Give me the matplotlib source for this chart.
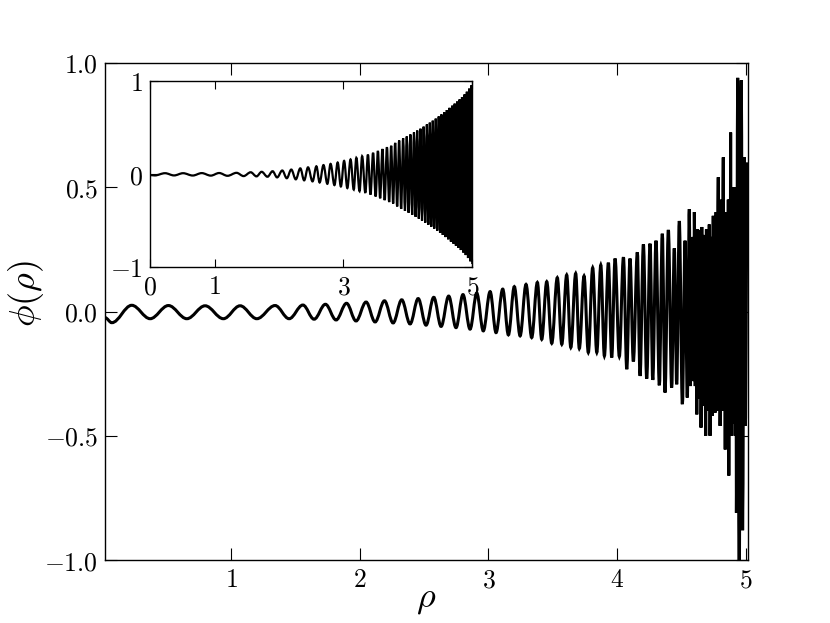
import matplotlib
matplotlib.use("Agg")
import matplotlib.pyplot as plt
from matplotlib.path import Path
from matplotlib.patches import PathPatch
from matplotlib.ticker import FuncFormatter

plt.rcParams["mathtext.fontset"] = "cm"

# extrema of phi(rho) (alternating min / max)
main_rho = [0.021, 0.073, 0.228, 0.371, 0.513, 0.656, 0.798, 0.940, 1.070, 1.200,
            1.342, 1.451, 1.558, 1.645, 1.733, 1.816, 1.897, 1.971, 2.049, 2.119,
            2.192, 2.259, 2.326, 2.391, 2.454, 2.515, 2.575, 2.632, 2.691, 2.748,
            2.802, 2.857, 2.909, 2.960, 3.013, 3.059, 3.111, 3.155, 3.201, 3.246,
            3.292, 3.336, 3.380, 3.414, 3.453, 3.492, 3.535, 3.570, 3.608, 3.640,
            3.678, 3.706, 3.743, 3.776, 3.810, 3.842, 3.873, 3.901, 3.932, 3.958,
            3.984, 4.017, 4.049, 4.075, 4.100, 4.126, 4.157, 4.178, 4.204, 4.230,
            4.256, 4.277, 4.302, 4.328, 4.351, 4.372, 4.398, 4.424, 4.444, 4.463,
            4.483, 4.507, 4.528, 4.545, 4.561, 4.569, 4.576, 4.584, 4.590, 4.595,
            4.600, 4.607, 4.613, 4.619, 4.625, 4.631, 4.636, 4.642, 4.647, 4.652,
            4.658, 4.664, 4.670, 4.676, 4.682, 4.688, 4.694, 4.699, 4.704, 4.710,
            4.716, 4.722, 4.730, 4.739, 4.747, 4.752, 4.757, 4.761, 4.769, 4.777,
            4.786, 4.791, 4.795, 4.800, 4.808, 4.817, 4.825, 4.830, 4.835, 4.840,
            4.845, 4.850, 4.855, 4.859, 4.864, 4.868, 4.873, 4.877, 4.882, 4.887,
            4.892, 4.897, 4.902, 4.907, 4.912, 4.917, 4.922, 4.927, 4.937, 4.948,
            4.965, 4.975, 4.988, 4.996, 5.012]
main_phi = [-0.025, -0.045, 0.025, -0.029, 0.024, -0.029, 0.023, -0.029, 0.023, -0.029,
            0.024, -0.029, 0.026, -0.031, 0.029, -0.034, 0.033, -0.038, 0.038, -0.042,
            0.043, -0.046, 0.047, -0.050, 0.052, -0.055, 0.057, -0.060, 0.062, -0.065,
            0.068, -0.071, 0.074, -0.078, 0.080, -0.085, 0.090, -0.094, 0.100, -0.098,
            0.109, -0.105, 0.117, -0.112, 0.120, -0.128, 0.136, -0.132, 0.147, -0.145,
            0.153, -0.149, 0.143, -0.165, 0.176, -0.165, 0.187, -0.179, 0.196, -0.185,
            0.213, -0.181, 0.218, -0.232, 0.213, -0.201, 0.238, -0.259, 0.270, -0.270,
            0.273, -0.275, 0.285, -0.297, 0.313, -0.326, 0.328, -0.306, 0.254, -0.293,
            0.364, -0.373, 0.285, -0.346, 0.412, -0.300, 0.250, -0.220, 0.300, -0.280,
            0.400, -0.300, 0.300, -0.414, 0.330, -0.320, 0.328, -0.350, 0.300, -0.467,
            0.340, -0.360, 0.308, -0.380, 0.300, -0.500, 0.330, -0.400, 0.288, -0.400,
            0.350, -0.500, 0.300, -0.420, 0.385, -0.350, 0.300, -0.407, 0.400, -0.400,
            0.540, -0.380, 0.350, -0.460, 0.450, -0.400, 0.620, -0.400, 0.400, -0.555,
            0.400, -0.450, 0.326, -0.400, 0.450, -0.660, 0.450, -0.500, 0.720, -0.500,
            0.450, -0.440, 0.500, -0.450, 0.366, -0.500, 0.500, -0.810, 0.940, -1.100,
            0.930, -0.880, 0.620, -0.460, 0.600]

# extrema of the inset curve (alternating min / max)
inset_rho = [0.0, 0.07, 0.23, 0.37, 0.51, 0.66, 0.80, 0.94, 1.07, 1.20,
             1.34, 1.45, 1.56, 1.65, 1.73, 1.82, 1.90, 1.97, 2.05, 2.12,
             2.19, 2.26, 2.33, 2.39, 2.45, 2.52, 2.58, 2.63, 2.69, 2.75,
             2.80, 2.86, 2.91, 2.96, 3.01, 3.06, 3.11, 3.16, 3.20, 3.25,
             3.29, 3.34, 3.38, 3.42, 3.46, 3.50, 3.535, 3.57, 3.605, 3.64,
             3.675, 3.71, 3.741, 3.772, 3.803, 3.834, 3.865, 3.896, 3.927, 3.955,
             3.983, 4.011, 4.039, 4.067, 4.095, 4.120, 4.145, 4.170, 4.195, 4.220,
             4.245, 4.270, 4.295, 4.318, 4.341, 4.364, 4.387, 4.410, 4.433, 4.456,
             4.479, 4.500, 4.521, 4.542, 4.563, 4.584, 4.605, 4.626, 4.647, 4.668,
             4.689, 4.708, 4.727, 4.746, 4.765, 4.784, 4.803, 4.822, 4.841, 4.860,
             4.879, 4.898, 4.916, 4.934, 4.952, 4.970, 4.988, 5.000]
inset_phi = [-0.010, -0.014, 0.010, -0.014, 0.010, -0.015, 0.011, -0.016, 0.012, -0.018,
             0.014, -0.021, 0.020, -0.024, 0.025, -0.028, 0.031, -0.035, 0.039, -0.044,
             0.049, -0.056, 0.062, -0.067, 0.073, -0.078, 0.084, -0.090, 0.097, -0.104,
             0.110, -0.118, 0.125, -0.133, 0.142, -0.150, 0.158, -0.166, 0.175, -0.183,
             0.192, -0.201, 0.210, -0.220, 0.230, -0.240, 0.250, -0.260, 0.270, -0.280,
             0.290, -0.300, 0.305, -0.316, 0.336, -0.347, 0.361, -0.373, 0.385, -0.395,
             0.404, -0.414, 0.426, -0.437, 0.448, -0.458, 0.468, -0.478, 0.488, -0.499,
             0.510, -0.521, 0.533, -0.543, 0.553, -0.564, 0.574, -0.585, 0.596, -0.607,
             0.619, -0.630, 0.641, -0.653, 0.665, -0.676, 0.688, -0.700, 0.712, -0.724,
             0.735, -0.746, 0.757, -0.768, 0.779, -0.790, 0.802, -0.815, 0.828, -0.841,
             0.855, -0.869, 0.885, -0.901, 0.918, -0.936, 0.954, -0.965]

main_xticks = [1, 2, 3, 4, 5]
main_yticks = [-1.0, -0.5, 0.0, 0.5, 1.0]
inset_xticks = [0, 1, 3, 5]
inset_yticks = [-1, 0, 1]


def wave_path(xs, ys, k=0.36):
    # cubic segments between extrema, flat tangents at each extremum
    verts = [(xs[0], ys[0])]
    codes = [Path.MOVETO]
    for x0, y0, x1, y1 in zip(xs[:-1], ys[:-1], xs[1:], ys[1:]):
        d = x1 - x0
        verts += [(x0 + k * d, y0), (x1 - k * d, y1), (x1, y1)]
        codes += [Path.CURVE4] * 3
    return Path(verts, codes)


def style_axes(ax, size, length):
    ax.tick_params(direction="in", top=True, right=True, length=length,
                   width=0.8, labelsize=size, pad=5)
    for s in ax.spines.values():
        s.set_linewidth(1.0)


int_fmt = FuncFormatter(lambda v, p: r"$%d$" % v)

fig = plt.figure(figsize=(8.3, 6.23), dpi=100)
ax = fig.add_axes([0.1265, 0.101, 0.7747, 0.798])
ax.add_patch(PathPatch(wave_path(main_rho, main_phi), fill=False,
                       edgecolor="black", linewidth=2.2))
ax.set_xlim(0.02, 5.017)
ax.set_ylim(-1.0, 1.0)
ax.set_xticks(main_xticks)
ax.set_yticks(main_yticks)
ax.xaxis.set_major_formatter(int_fmt)
ax.yaxis.set_major_formatter(FuncFormatter(lambda v, p: r"$%.1f$" % v))
style_axes(ax, 18.5, 8.5)
ax.set_xlabel(r"$\rho$", fontsize=26)
ax.set_ylabel(r"$\phi(\rho)$", fontsize=26)
ax.xaxis.set_label_coords(0.5, -0.045)
ax.yaxis.set_label_coords(-0.092, 0.535)

# inset
ins = fig.add_axes([0.181, 0.571, 0.388, 0.299])
ins.add_patch(PathPatch(wave_path(inset_rho, inset_phi), fill=False,
                        edgecolor="black", linewidth=1.6))
ins.set_xlim(0, 5)
ins.set_ylim(-1, 1)
ins.set_xticks(inset_xticks)
ins.set_yticks(inset_yticks)
ins.xaxis.set_major_formatter(int_fmt)
ins.yaxis.set_major_formatter(int_fmt)
style_axes(ins, 18.5, 6)

fig.savefig("out.png", dpi=100)
